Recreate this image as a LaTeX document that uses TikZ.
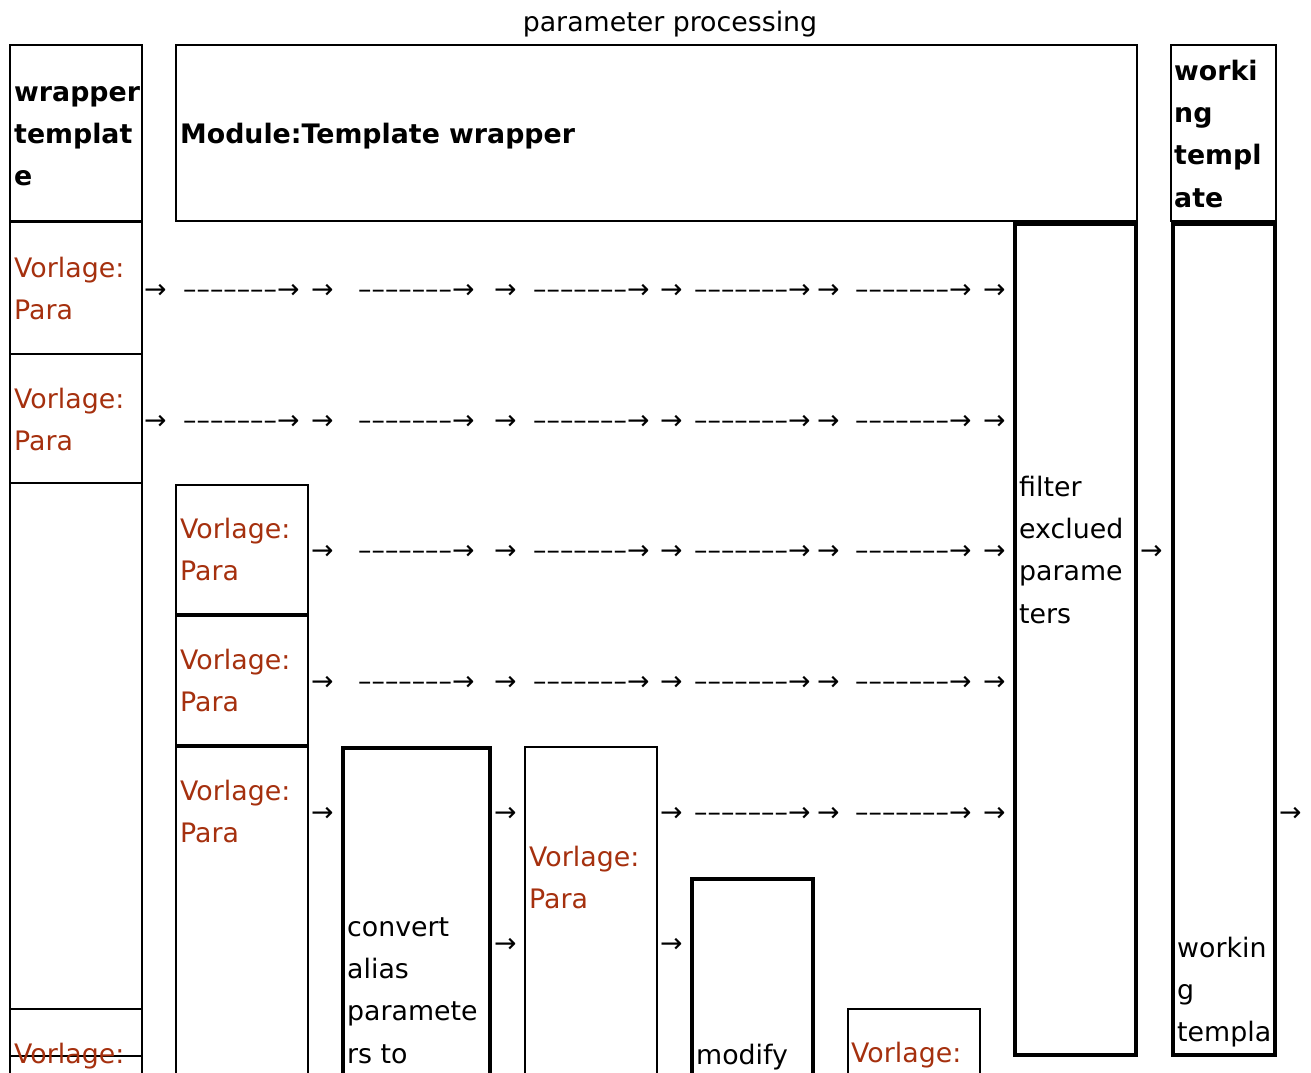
\documentclass[tikz,border=0pt]{standalone}
\usepackage{fontspec}
\setmainfont{DejaVu Sans}
\definecolor{vl}{RGB}{165,48,14}
\tikzset{
  thinbox/.style={draw=black, line width=2pt},
  thickbox/.style={draw=black, line width=4pt},
  txt/.style={anchor=base west, inner sep=0pt, font=\fontsize{26.8}{42.5}\selectfont},
  btxt/.style={txt, font=\fontsize{26.8}{42.5}\selectfont\bfseries},
  vtxt/.style={txt, text=vl},
}
\newcommand\bx[6]{\node[#2, anchor=north west, inner sep=0pt, outer sep=0pt,
  minimum width={#5-#3}, minimum height={#6-#4}] (#1) at (#3,#4) {};}
% lines of text: name, style, x, first baseline, list
\newcommand\lns[5]{\foreach \t [count=\i] in {#5}
  {\node[#2] (#1-\i) at (#3,{#4+(\i-1)*42.4}) {\t};}}
\newcommand\dar{–––––––→}
\begin{document}
\begin{tikzpicture}[x=1pt,y=-1pt]
\useasboundingbox (0,0) rectangle (1311,1072);
\clip (0,0) rectangle (1311,1072);
\node[txt, anchor=base] (title) at (670,31) {parameter processing};
% column A
\bx{ahead}{thinbox}{10}{45}{142}{221}
\bx{a1}{thinbox}{10}{222}{142}{354}
\bx{a2}{thinbox}{10}{354}{142}{483}
\bx{a3}{thinbox}{10}{483}{142}{1009}
\bx{a4}{thinbox}{10}{1009}{142}{1056}
\bx{a5}{thinbox}{10}{1056}{142}{1110}
\lns{aheadt}{btxt}{14}{101}{wrapper,templat,e}
\lns{a1t}{vtxt}{14}{277}{Vorlage:,Para}
\lns{a2t}{vtxt}{14}{408}{Vorlage:,Para}
\lns{a4t}{vtxt}{14}{1063}{Vorlage:}
% column B
\bx{bhead}{thinbox}{176}{45}{1137}{221}
\node[btxt] (bheadt) at (180,143) {Module:Template wrapper};
\bx{b1}{thinbox}{176}{485}{308}{614}
\bx{b2}{thinbox}{176}{616}{308}{745}
\bx{b3}{thinbox}{176}{747}{308}{1110}
\lns{b1t}{vtxt}{180}{538}{Vorlage:,Para}
\lns{b2t}{vtxt}{180}{669}{Vorlage:,Para}
\lns{b3t}{vtxt}{180}{800}{Vorlage:,Para}
% convert
\bx{conv}{thickbox}{343}{748}{490}{1110}
\lns{convt}{txt}{347}{936}{convert,alias,paramete,rs to}
% D
\bx{d}{thinbox}{525}{747}{657}{1110}
\lns{dt}{vtxt}{529}{866}{Vorlage:,Para}
% modify
\bx{mod}{thickbox}{692}{879}{813}{1110}
\lns{modt}{txt}{696}{1064}{modify}
% F
\bx{f}{thinbox}{848}{1009}{980}{1110}
\lns{ft}{vtxt}{851}{1062}{Vorlage:}
% filter
\bx{filt}{thickbox}{1015}{224}{1136}{1055}
\lns{filtt}{txt}{1019}{496}{filter,exclued,parame,ters}
% working template
\bx{whead}{thinbox}{1171}{45}{1276}{221}
\lns{wheadt}{btxt}{1174}{80}{worki,ng,templ,ate}
\bx{w}{thickbox}{1173}{224}{1275}{1055}
\lns{wt}{txt}{1177}{957}{workin,g,templa}
% arrows
\foreach \y [count=\r] in {298,429} {
  \foreach \x/\s [count=\k] in {144/→,183/\dar,311/→,358/\dar,494/→,533/\dar,660/→,694/\dar,817/→,855/\dar,983/→}
    {\node[txt] (r\r-\k) at (\x,\y) {\s};}
}
\foreach \y [count=\r from 3] in {559,690} {
  \foreach \x/\s [count=\k] in {311/→,358/\dar,494/→,533/\dar,660/→,694/\dar,817/→,855/\dar,983/→}
    {\node[txt] (r\r-\k) at (\x,\y) {\s};}
}
\foreach \x/\s [count=\k] in {311/→,494/→,660/→,694/\dar,817/→,855/\dar,983/→}
  {\node[txt] (r5-\k) at (\x,821) {\s};}
\foreach \x/\s [count=\k] in {494/→,660/→}
  {\node[txt] (r6-\k) at (\x,952) {\s};}
\node[txt] (fw) at (1140,559) {→};
\node[txt] (wout) at (1279,821) {→};
\end{tikzpicture}
\end{document}
